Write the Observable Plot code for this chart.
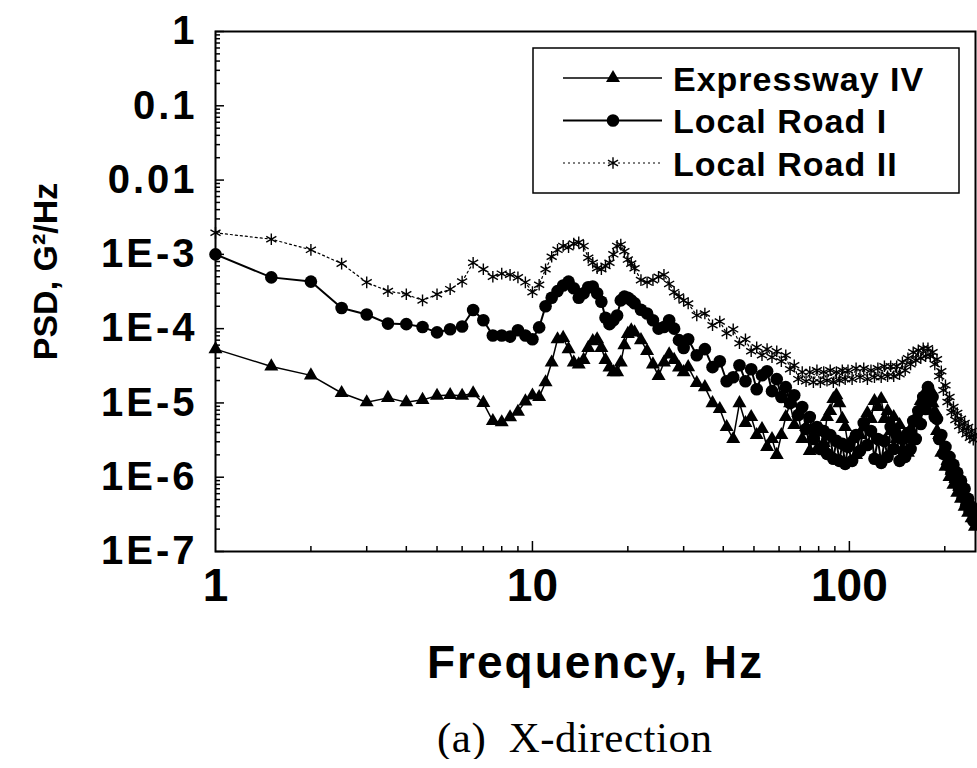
<!DOCTYPE html>
<html><head><meta charset="utf-8">
<script src="https://cdn.jsdelivr.net/npm/d3@7"></script>
<script src="https://cdn.jsdelivr.net/npm/@observablehq/plot@0.6"></script>
<style>
body{margin:0;background:#fff;overflow:hidden;}
#chart svg{display:block;}
#caption{font-family:"Liberation Serif","Times New Roman",serif;font-size:43px;line-height:42px;padding-left:437px;margin-top:17px;color:#000;white-space:pre;letter-spacing:0.5px;}
</style></head><body>
<div id="chart"></div>
<div id="caption">(a)  X-direction</div>
<script>
const seriesNames = ["Expressway IV", "Local Road I", "Local Road II"];

// frequency grid (Hz), shared by the three series
const freq = [1,1.5,2,2.5,3,3.5,4,4.5,5,5.5,6,6.5,7,7.5,8,8.5,9,9.5,10,
  10.5,11,11.5,12,12.5,13,13.5,14,14.5,15,15.5,16,16.5,17,17.5,18,18.5,19,19.5,20,20.5,21,
  22,23,24,25,26,27,28,29,30,
  31,33,35,37,39,41,43,45,47,49,51,53,55,57,59,61,63,65,67,69,71,73,75,77,79,81,83,85,87,89,91,93,95,97,99,
  102,105,108,111,114,117,120,123,126,129,132,135,138,141,144,147,150,153,156,159,
  162,165,168,171,174,177,180,183,186,189,192,195,198,201,204,207,210,213,216,219,
  222,225,228,231,234,237,240,243,246,249];

const psdExpressway = [5.3e-5,3.1e-5,2.35e-5,1.36e-5,1.02e-5,1.17e-5,1.02e-5,1.1e-5,1.25e-5,1.28e-5,1.25e-5,1.35e-5,1.0e-5,5.7e-6,5.5e-6,6.4e-6,7.6e-6,1.05e-5,1.26e-5,
  1.2e-5,1.9e-5,3.5e-5,7.2e-5,7.5e-5,5.3e-5,3.5e-5,3.3e-5,3.8e-5,5.5e-5,6.8e-5,7.2e-5,5.5e-5,3.8e-5,3.0e-5,2.6e-5,2.6e-5,3.5e-5,6.0e-5,8.5e-5,9.5e-5,8.9e-5,
  7.0e-5,5.0e-5,3.3e-5,2.3e-5,3.5e-5,4.5e-5,3.8e-5,3.0e-5,2.6e-5,
  3.03e-5,1.85e-5,1.63e-5,9.95e-6,8.27e-6,4.74e-6,3.27e-6,9.95e-6,5.37e-6,6.46e-6,
  3.7e-6,4.46e-6,2.56e-6,3.27e-6,2.0e-6,3.7e-6,6.46e-6,9.95e-6,5.05e-6,7.31e-6,
  3.27e-6,4.74e-6,2.26e-6,3.7e-6,2.4e-6,4.46e-6,2.9e-6,6.46e-6,7.78e-6,1.13e-5,
  1.27e-5,9.95e-6,6.1e-6,4.74e-6,2.72e-6,
  3.27e-6,2.0e-6,3.7e-6,4.74e-6,7.31e-6,6.1e-6,1.06e-5,8.8e-6,1.13e-5,6.1e-6,
  7.78e-6,4.19e-6,6.46e-6,3.27e-6,5.05e-6,2.4e-6,3.7e-6,2.13e-6,4.46e-6,3.27e-6,
  6.46e-6,6.1e-6,1.06e-5,9.35e-6,1.44e-5,1.27e-5,1.53e-5,9.95e-6,7.78e-6,4.19e-6,
  3.7e-6,2.13e-6,2.26e-6,1.38e-6,1.66e-6,1.01e-6,1.22e-6,7.91e-7,9.5e-7,6.18e-7,
  7.44e-7,5.14e-7,5.81e-7,4.01e-7,4.54e-7,3.33e-7,3.8e-7,2.8e-7,2.94e-7,2.16e-7];

const psdLocalRoadI = [1.0e-3,4.9e-4,4.3e-4,1.9e-4,1.55e-4,1.17e-4,1.15e-4,1.05e-4,8.9e-5,9.8e-5,1.07e-4,1.78e-4,1.3e-4,8.1e-5,8.1e-5,7.8e-5,9.5e-5,8.1e-5,7.2e-5,
  1.04e-4,2.0e-4,2.6e-4,3.2e-4,3.8e-4,4.3e-4,3.5e-4,2.6e-4,3.0e-4,3.6e-4,3.7e-4,3.0e-4,2.3e-4,1.4e-4,1.15e-4,1.3e-4,1.5e-4,2.4e-4,2.7e-4,2.6e-4,2.4e-4,2.2e-4,
  1.8e-4,1.6e-4,1.3e-4,1.0e-4,1.05e-4,1.3e-4,1.0e-4,7.0e-5,5.5e-5,
  7.2e-5,4.38e-5,5.3e-5,3.03e-5,3.64e-5,1.96e-5,2.22e-5,3.22e-5,1.96e-5,2.84e-5,
  1.53e-5,2.36e-5,2.67e-5,1.44e-5,2.09e-5,1.2e-5,1.63e-5,9.95e-6,1.27e-5,6.87e-6,
  8.8e-6,4.46e-6,6.46e-6,3.27e-6,4.74e-6,2.4e-6,4.19e-6,2.06e-6,3.7e-6,1.77e-6,
  3.08e-6,1.66e-6,2.81e-6,1.51e-6,2.56e-6,
  1.66e-6,3.7e-6,2.26e-6,5.37e-6,2.72e-6,4.19e-6,1.77e-6,3.27e-6,1.56e-6,3.08e-6,
  1.88e-6,4.74e-6,2.4e-6,3.7e-6,1.66e-6,3.27e-6,1.88e-6,3.94e-6,2.4e-6,5.71e-6,
  3.27e-6,7.78e-6,5.2e-6,1.2e-5,8.27e-6,1.63e-5,1.06e-5,1.2e-5,6.46e-6,6.1e-6,
  3.27e-6,3.7e-6,2.06e-6,2.56e-6,1.47e-6,1.88e-6,1.15e-6,1.47e-6,8.95e-7,1.15e-6,
  7.0e-7,8.95e-7,5.46e-7,7.0e-7,4.27e-7,5.14e-7,3.55e-7,4.01e-7,2.6e-7,3.13e-7];

const psdLocalRoadII = [1.95e-3,1.6e-3,1.15e-3,7.5e-4,4.2e-4,3.2e-4,2.9e-4,2.4e-4,2.9e-4,3.4e-4,4.3e-4,7.7e-4,6.3e-4,5.0e-4,5.5e-4,5.3e-4,4.9e-4,4.2e-4,3.1e-4,
  3.9e-4,6.3e-4,9.3e-4,1.15e-3,1.3e-3,1.25e-3,1.4e-3,1.45e-3,1.3e-3,9.0e-4,7.7e-4,6.5e-4,6.3e-4,7.0e-4,7.7e-4,1.0e-3,1.3e-3,1.35e-3,1.1e-3,8.5e-4,7.5e-4,6.5e-4,
  4.5e-4,4.2e-4,4.5e-4,5.0e-4,5.3e-4,4.0e-4,3.1e-4,2.7e-4,2.4e-4,
  2.18e-4,1.51e-4,1.6e-4,1.11e-4,1.25e-4,8.65e-5,9.78e-5,6.35e-5,7.18e-5,4.96e-5,
  5.61e-5,4.38e-5,5.3e-5,4.12e-5,4.96e-5,3.64e-5,4.38e-5,2.84e-5,3.22e-5,2.09e-5,
  2.6e-5,1.96e-5,2.6e-5,1.9e-5,2.75e-5,1.9e-5,2.6e-5,2.0e-5,2.75e-5,1.9e-5,
  2.6e-5,2.0e-5,2.75e-5,2.09e-5,2.75e-5,
  2.09e-5,2.93e-5,2.22e-5,2.93e-5,2.09e-5,2.75e-5,2.22e-5,2.93e-5,2.22e-5,3.12e-5,
  2.29e-5,3.12e-5,2.29e-5,3.12e-5,2.44e-5,3.53e-5,2.75e-5,4.0e-5,3.31e-5,4.81e-5,
  3.75e-5,5.12e-5,4.0e-5,5.44e-5,4.25e-5,5.44e-5,4.25e-5,4.81e-5,3.31e-5,3.87e-5,
  2.29e-5,2.67e-5,1.48e-5,1.73e-5,1.03e-5,1.2e-5,7.5e-6,8.8e-6,5.9e-6,7.31e-6,
  4.9e-6,6.1e-6,4.3e-6,5.37e-6,3.8e-6,4.74e-6,3.4e-6,4.19e-6,3.2e-6,3.7e-6];

const xTickValues = [1, 10, 100];
const xTickLabels = ["1", "10", "100"];
const yTickValues = [1, 0.1, 0.01, 1e-3, 1e-4, 1e-5, 1e-6, 1e-7];
const yTickLabels = ["1", "0.1", "0.01", "1E-3", "1E-4", "1E-5", "1E-6", "1E-7"];
const xMinorTicks = [2,3,4,5,6,7,8,9,20,30,40,50,60,70,80,90,200];
const yMinorTicks = [];
for (let e = -7; e < 0; e++) for (let k = 2; k <= 9; k++) yMinorTicks.push(k * Math.pow(10, e));

const xTitle = "Frequency, Hz";
const yTitle = "PSD, G\u00B2/Hz";

const rows = (name, vs) => freq.map((f, i) => ({series: name, f, v: vs[i]}));
const dE = rows(seriesNames[0], psdExpressway);
const dR1 = rows(seriesNames[1], psdLocalRoadI);
const dR2 = rows(seriesNames[2], psdLocalRoadII);

const W = 977, H = 700, mL = 215, mT = 31, mR = 2, mB = 149;
const fw = W - mL - mR, fh = H - mT - mB;
const font = "'Liberation Sans', Arial, Helvetica, sans-serif";

const plot = Plot.plot({
  width: W, height: H,
  marginLeft: mL, marginTop: mT, marginRight: mR, marginBottom: mB,
  style: {background: "white", color: "black", fontFamily: font, overflow: "visible"},
  x: {type: "log", domain: [1, 250]},
  y: {type: "log", domain: [1e-7, 1]},
  marks: [
    Plot.tickX(xMinorTicks, {x: d => d, stroke: "black", strokeWidth: 1.5, insetTop: fh - 5}),
    Plot.tickX(xTickValues.slice(1), {x: d => d, stroke: "black", strokeWidth: 1.5, insetTop: fh - 10}),
    Plot.tickY(yMinorTicks, {y: d => d, stroke: "black", strokeWidth: 1.5, insetRight: fw - 5}),
    Plot.tickY(yTickValues, {y: d => d, stroke: "black", strokeWidth: 1.5, insetRight: fw - 9}),
    Plot.axisX({ticks: xTickValues, tickFormat: d => xTickLabels[xTickValues.indexOf(d)], tickSize: 0, tickPadding: 17, fontSize: 46, fontWeight: "bold", label: null}),
    Plot.axisY({ticks: yTickValues, tickFormat: d => yTickLabels[yTickValues.indexOf(d)], tickSize: 0, tickPadding: 18, fontSize: 40, fontWeight: "bold", label: null}),
    Plot.line(dR2, {x: "f", y: "v", stroke: "black", strokeWidth: 1.2, strokeDasharray: "2,3"}),
    Plot.dot(dR2, {x: "f", y: "v", symbol: "asterisk", r: 5.5, stroke: "black", strokeWidth: 1.4}),
    Plot.line(dR1, {x: "f", y: "v", stroke: "black", strokeWidth: 2}),
    Plot.dot(dR1, {x: "f", y: "v", symbol: "circle", r: 6.3, fill: "black", stroke: "none"}),
    Plot.line(dE, {x: "f", y: "v", stroke: "black", strokeWidth: 1.5}),
    Plot.dot(dE, {x: "f", y: "v", symbol: "triangle", r: 5.2, fill: "black", stroke: "none"}),
    Plot.frame({stroke: "black", strokeWidth: 2}),
    Plot.text([xTitle], {text: d => d, frameAnchor: "bottom", textAnchor: "middle", dy: 126, fontSize: 46, fontWeight: "bold"}),
    Plot.text([yTitle], {text: d => d, frameAnchor: "left", textAnchor: "middle", lineAnchor: "middle", rotate: -90, dx: -169, dy: -20, fontSize: 34, fontWeight: "bold"})
  ]
});
document.getElementById("chart").appendChild(plot);

const svg = d3.select(plot);
svg.selectAll('g[aria-label="y-axis tick label"] text').style("letter-spacing", "3px");
svg.selectAll('g[aria-label="text"] text').filter(function () { return this.textContent === xTitle; }).style("letter-spacing", "2px");

// legend
const lg = svg.append("g").attr("font-family", font).attr("text-anchor", "start");
lg.append("rect").attr("x", 533).attr("y", 48).attr("width", 426).attr("height", 145)
  .attr("fill", "white").attr("stroke", "black").attr("stroke-width", 1.5);
const legendItems = [
  {name: seriesNames[0], sym: d3.symbolTriangle, size: 5.2 * 5.2 * Math.PI, fill: "black", stroke: "none", sw: 1.5, dash: null},
  {name: seriesNames[1], sym: d3.symbolCircle, size: 6.3 * 6.3 * Math.PI, fill: "black", stroke: "none", sw: 2, dash: null},
  {name: seriesNames[2], sym: d3.symbolAsterisk, size: 5.5 * 5.5 * Math.PI, fill: "none", stroke: "black", sw: 1.2, dash: "2,3"}
];
legendItems.forEach((it, i) => {
  const y = 78 + i * 42.5;
  lg.append("line").attr("x1", 563).attr("x2", 662).attr("y1", y).attr("y2", y)
    .attr("stroke", "black").attr("stroke-width", it.sw).attr("stroke-dasharray", it.dash);
  lg.append("path").attr("transform", `translate(613,${y})`).attr("d", d3.symbol(it.sym, it.size)())
    .attr("fill", it.fill).attr("stroke", it.stroke).attr("stroke-width", 1.4);
  lg.append("text").attr("x", 673).attr("y", y + 12.5).attr("font-size", 34).attr("font-weight", "bold")
    .attr("text-anchor", "start").style("letter-spacing", "1px").text(it.name);
});
</script>
</body></html>
